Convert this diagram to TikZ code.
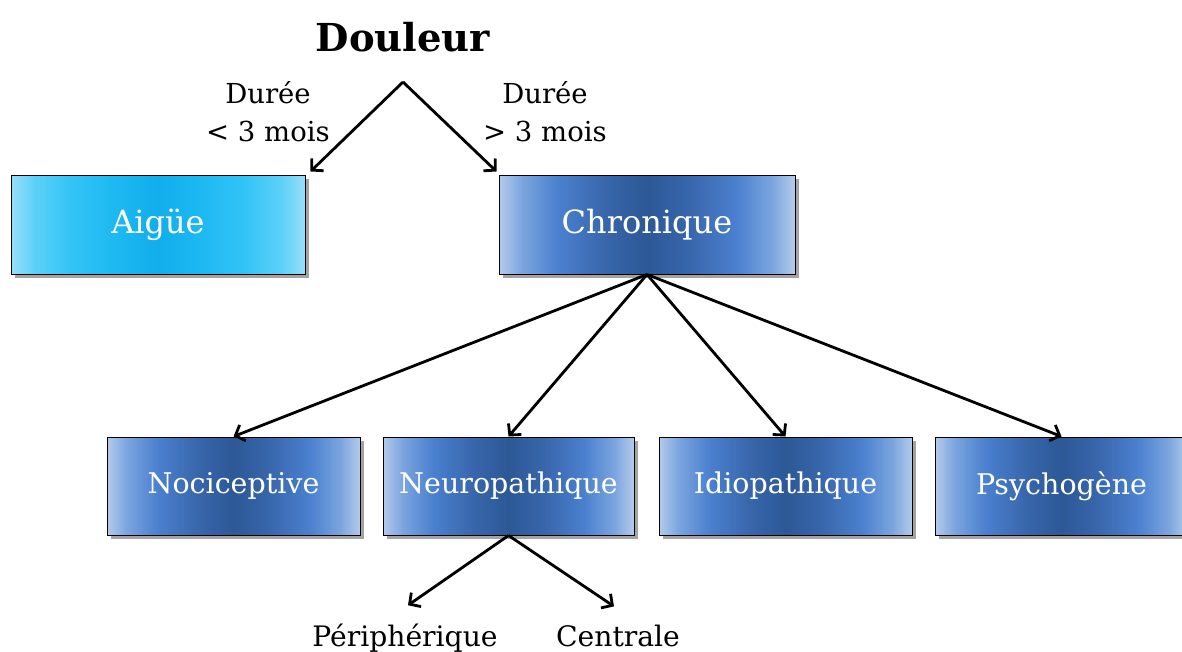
\documentclass[tikz,border=0pt]{standalone}
\usepackage{fontspec}
\setmainfont{DejaVu Serif}
\usetikzlibrary{shadows,arrows.meta,calc}
\definecolor{cdark}{HTML}{2C5896}
\definecolor{cmdark}{HTML}{3866AB}
\definecolor{cmid}{HTML}{4A80CF}
\definecolor{cmidb}{HTML}{7AA4DE}
\definecolor{cedge}{HTML}{B4CBEC}
\definecolor{adark}{HTML}{12AEEC}
\definecolor{amdark}{HTML}{1CB8F1}
\definecolor{amid}{HTML}{33C4F7}
\definecolor{amidb}{HTML}{5DD1F8}
\definecolor{aedge}{HTML}{98DFF9}
\pgfdeclarehorizontalshading{chron}{100bp}{color(0bp)=(cedge); color(25bp)=(cedge); color(29bp)=(cmidb); color(35bp)=(cmid); color(43bp)=(cmdark); color(50bp)=(cdark); color(57bp)=(cmdark); color(65bp)=(cmid); color(71bp)=(cmidb); color(75bp)=(cedge); color(100bp)=(cedge)}
\pgfdeclarehorizontalshading{aig}{100bp}{color(0bp)=(aedge); color(25bp)=(aedge); color(29bp)=(amidb); color(35bp)=(amid); color(43bp)=(amdark); color(50bp)=(adark); color(57bp)=(amdark); color(65bp)=(amid); color(71bp)=(amidb); color(75bp)=(aedge); color(100bp)=(aedge)}
\tikzset{
  box/.style={draw=black, line width=1pt, inner sep=0pt,
    minimum height=98pt, text=white,
    drop shadow={shadow xshift=3.5pt, shadow yshift=-3.5pt, opacity=0.45, fill=black!80}},
  chronbox/.style={box, shading=chron, font=\fontsize{28.5}{34}\selectfont},
  aigbox/.style={box, shading=aig},
  topfont/.style={font=\fontsize{32}{38}\selectfont},
  lbl/.style={font=\fontsize{27.5}{38}\selectfont, align=center, inner sep=0pt},
  arr/.style={line width=2.8pt, -{Straight Barb[length=8pt,width=17pt,line width=2.8pt]}}
}
\begin{document}
\begin{tikzpicture}[x=1pt,y=-1pt]
\fill[white] (0,0) rectangle (1182,652);
\useasboundingbox (0,0) rectangle (1182,652);
\node[font=\bfseries\fontsize{38.5}{44}\selectfont, inner sep=0pt] (douleur) at (403,37) {Douleur};
\coordinate (apex) at (403,82);
\node[aigbox, topfont, minimum width=294pt] (aigue) at (158,225) {Aigüe};
\node[chronbox, topfont, minimum width=296pt] (chron) at (647,225) {Chronique};
\node[lbl] (lcourt) at (268,112) {Durée\\< 3 mois};
\node[lbl] (llong) at (545,112) {Durée\\> 3 mois};
\draw[arr] (apex) -- ($(aigue.north east)+(5,-4)$);
\draw[arr] (apex) -- ($(chron.north west)+(-2,-4)$);
\node[chronbox, minimum width=253pt] (noci) at (233.5,486) {Nociceptive};
\node[chronbox, minimum width=251pt] (neuro) at (508.5,486) {Neuropathique};
\node[chronbox, minimum width=253pt] (idio) at (785.5,486) {Idiopathique};
\node[chronbox, minimum width=253pt] (psy) at (1061.5,486) {Psychogène};
\draw[arr] (chron.south) -- (noci.north);
\draw[arr] (chron.south) -- (neuro.north);
\draw[arr] (chron.south) -- (idio.north);
\draw[arr] (chron.south) -- (psy.north);
\node[lbl, font=\fontsize{28.2}{32}\selectfont, anchor=base] (peri) at (405,646) {Périphérique};
\node[lbl, font=\fontsize{28.2}{32}\selectfont, anchor=base] (centr) at (618,646) {Centrale};
\draw[arr] (neuro.south) -- ($(peri.north)+(3,-18)$);
\draw[arr] (neuro.south) -- ($(centr.north)+(-4,-18)$);
\end{tikzpicture}
\end{document}
